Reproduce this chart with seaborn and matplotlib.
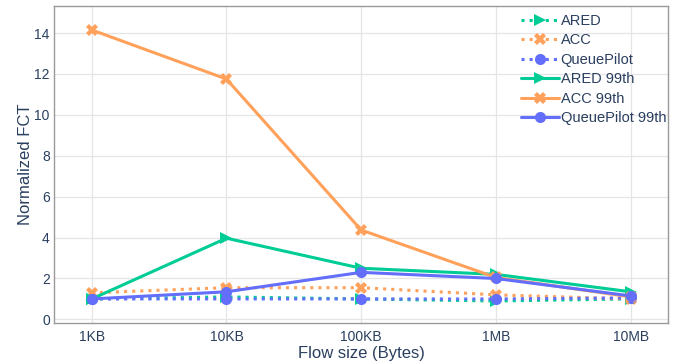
import matplotlib
matplotlib.use("Agg")
import matplotlib.pyplot as plt
import seaborn as sns
import pandas as pd

categories = ["1KB", "10KB", "100KB", "1MB", "10MB"]
ared = [1.0, 1.1, 1.0, 0.9, 1.0]
acc = [1.3, 1.55, 1.55, 1.2, 1.0]
queuepilot = [1.0, 1.0, 1.0, 1.0, 1.05]
ared_99 = [1.0, 3.97, 2.5, 2.2, 1.35]
acc_99 = [14.15, 11.75, 4.37, 2.05, 1.1]
queuepilot_99 = [1.0, 1.35, 2.3, 2.0, 1.15]

series = [
    ("ARED", ared, "#00CC96", ">", ":"),
    ("ACC", acc, "#FFA15A", "X", ":"),
    ("QueuePilot", queuepilot, "#636EFA", "o", ":"),
    ("ARED 99th", ared_99, "#00CC96", ">", "-"),
    ("ACC 99th", acc_99, "#FFA15A", "X", "-"),
    ("QueuePilot 99th", queuepilot_99, "#636EFA", "o", "-"),
]

sns.set_theme(style="white")
plt.rcParams["font.family"] = ["Liberation Sans", "DejaVu Sans"]
txt = "#2a3f5f"

fig = plt.figure(figsize=(6.76, 3.63), dpi=100)
ax = fig.add_axes([0.0799, 0.1094, 0.9087, 0.874])

for name, vals, color, marker, ls in series:
    df = pd.DataFrame({"x": list(range(len(categories))), "y": vals})
    sns.lineplot(data=df, x="x", y="y", ax=ax, color=color, marker=marker,
                 linestyle=ls, linewidth=2.2, markersize=8, markeredgewidth=0,
                 label=name)

ax.set_xlim(-0.28, 4.28)
ax.set_ylim(-0.19, 15.32)
ax.set_xticks(range(len(categories)))
ax.set_xticklabels(categories)
ax.set_yticks([0, 2, 4, 6, 8, 10, 12, 14])
ax.grid(True, color="#e5e5e5", linewidth=0.9)
ax.set_axisbelow(True)
for s in ax.spines.values():
    s.set_color("#9a9a9a")
    s.set_linewidth(1.0)
ax.tick_params(axis="both", colors=txt, labelsize=10, length=0)
ax.tick_params(axis="y", pad=3)
ax.tick_params(axis="x", pad=5)
ax.set_xlabel("Flow size (Bytes)", color=txt, fontsize=12, labelpad=1)
ax.set_ylabel("Normalized FCT", color=txt, fontsize=12, labelpad=1)

leg = ax.legend(loc="upper left", frameon=False, fontsize=10.5, handlelength=2.55,
                handletextpad=0.15, labelspacing=0.38, borderaxespad=0,
                borderpad=0.2, bbox_to_anchor=(0.756, 0.985))
for t in leg.get_texts():
    t.set_color(txt)

fig.savefig("out.png", dpi=100)
